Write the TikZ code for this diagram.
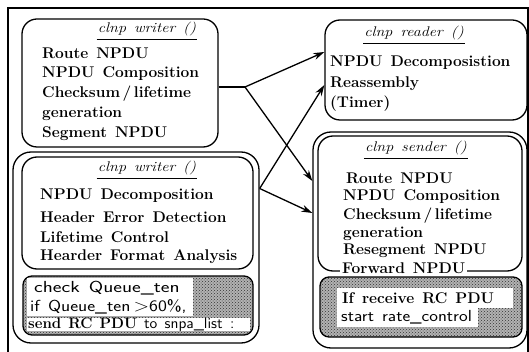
\documentclass[tikz,border=0pt]{standalone}
\usepackage{fontspec}
\usetikzlibrary{arrows.meta,patterns}
\newcommand{\hwide}[2]{\scalebox{#1}[1]{#2}}
\newcommand{\gapwords}[1]{\spaceskip #1 plus 1pt\relax}
\begin{document}
\begin{tikzpicture}[x=1pt,y=-1pt,
  boxline/.style={draw, line width=1.3pt, rounded corners=15pt, inner sep=0pt},
  shadebox/.style={draw, line width=1.3pt, rounded corners=9pt, inner sep=0pt,
    preaction={fill=black!30}, pattern=crosshatch dots, pattern color=black!80},
  body/.style={anchor=west, inner sep=0pt,
    font={\fontsize{15.5}{18}\selectfont\bfseries\gapwords{8pt}}},
  sans/.style={anchor=west, inner sep=0pt,
    font={\fontsize{16}{18}\selectfont\sffamily\gapwords{7pt}}},
  ttl/.style={inner sep=0pt,
    font={\fontsize{14}{16}\selectfont\itshape\gapwords{7pt}}},
  uline/.style={line width=0.8pt},
  link/.style={line width=1.3pt},
  arr/.style={link, -{Stealth[length=11pt,width=7pt]}},
]
\useasboundingbox (0,0) rectangle (529,352);

% outer frame
\draw[line width=1.2pt] (8,352) -- (8,8) -- (528,8) -- (528,352);

% ---- clnp writer (upper) ----
\node[boxline, minimum width=196pt, minimum height=128pt] (w1) at (120,83) {};
\node[ttl] (w1t) at (147,29) {\hwide{1.15}{clnp writer ()}};
\draw[uline] ([yshift=-3pt,xshift=-1pt]w1t.south west) -- ([yshift=-3pt,xshift=1pt]w1t.south east);
\node[body] (w1a) at (42,53) {Route NPDU};
\node[body] (w1b) at (42,74) {NPDU Composition};
\node[body] (w1c) at (42,94) {Checksum\,/\,lifetime};
\node[body] (w1d) at (42,114) {generation};
\node[body] (w1e) at (42,134) {Segment NPDU};

% ---- clnp writer (lower, with rate check) ----
\node[boxline, rounded corners=18pt, minimum width=246pt, minimum height=191pt] (w2) at (136,247.5) {};
\node[boxline, minimum width=231pt, minimum height=112pt] (w2in) at (137.5,213) {};
\node[ttl] (w2t) at (147,168) {\hwide{1.15}{clnp writer ()}};
\draw[uline] ([yshift=-3pt,xshift=-1pt]w2t.south west) -- ([yshift=-3pt,xshift=1pt]w2t.south east);
\node[body] (w2a) at (40,196) {NPDU Decomposition};
\node[body] (w2b) at (40,217) {Header Error Detection};
\node[body] (w2c) at (40,237) {Lifetime Control};
\node[body] (w2d) at (40,257) {Hearder Format Analysis};

\node[shadebox, minimum width=230pt, minimum height=59pt] (w2s) at (138,305.5) {};
\fill[white] (27,278) rectangle (193,316);
\fill[white] (27,318) rectangle (250,331);
\node[sans] (w2s1) at (34,288) {\hwide{1.3}{check Queue\_ten}};
\node[sans] (w2s2) at (30,307) {\hwide{1.18}{if Queue\_ten\,$>$60\%,}};
\node[body, font={\fontsize{15}{18}\selectfont\bfseries\gapwords{7pt}}] (w2s3) at (28,325)
  {send RC PDU {\sffamily\mdseries\hwide{1.05}{to snpa\_list :}}};

% ---- clnp reader ----
\node[boxline, minimum width=202pt, minimum height=100pt] (rd) at (426,70) {};
\node[ttl] (rdt) at (414,33) {\hwide{1.15}{clnp reader ()}};
\draw[uline] ([yshift=-3pt,xshift=-1pt]rdt.south west) -- ([yshift=-3pt,xshift=1pt]rdt.south east);
\node[body] (rda) at (330,63) {NPDU Decomposistion};
\node[body] (rdb) at (330,84) {Reassembly};
\node[body] (rdc) at (330,104) {(Timer)};

% ---- clnp sender ----
\node[boxline, rounded corners=18pt, minimum width=214pt, minimum height=216pt] (so) at (420,240) {};
\node[boxline, minimum width=204pt, minimum height=135pt] (sin) at (420,203.5) {};
\node[ttl] (sot) at (416,148) {\hwide{1.15}{clnp sender ()}};
\draw[uline] ([yshift=-3pt,xshift=-1pt]sot.south west) -- ([yshift=-3pt,xshift=1pt]sot.south east);
\node[body] (soa) at (346,178) {Route NPDU};
\node[body] (sob) at (343,197) {NPDU Composition};
\node[body] (soc) at (343,216) {Checksum\,/\,lifetime};
\node[body] (sod) at (343,234) {generation};
\node[body] (soe) at (343,251) {Resegment NPDU};
\node[body, fill=white, inner sep=2pt] (sof) at (340,268) {Forward NPDU};

\node[shadebox, minimum width=202pt, minimum height=60pt] (ss) at (421,307) {};
\fill[white] (337,288) rectangle (513,308);
\fill[white] (337,308) rectangle (478,327);
\node[body] (ss1) at (342,298) {If receive RC PDU};
\node[sans] (ss2) at (341,317) {\hwide{1.15}{start rate\_control}};

% ---- connectors ----
\coordinate (j1) at (245,87);
\coordinate (j2) at ([yshift=59pt]w2.east);
\draw[link] (w1.east |- j1) -- (j1);
\draw[arr] (j1) -- ([yshift=18pt]rd.west);
\draw[arr] (j1) -- ([yshift=59pt]so.west);
\draw[arr] (j2) -- ([yshift=-15pt]rd.west);
\draw[arr] (j2) -- ([yshift=27pt]so.west);
\end{tikzpicture}
\end{document}
